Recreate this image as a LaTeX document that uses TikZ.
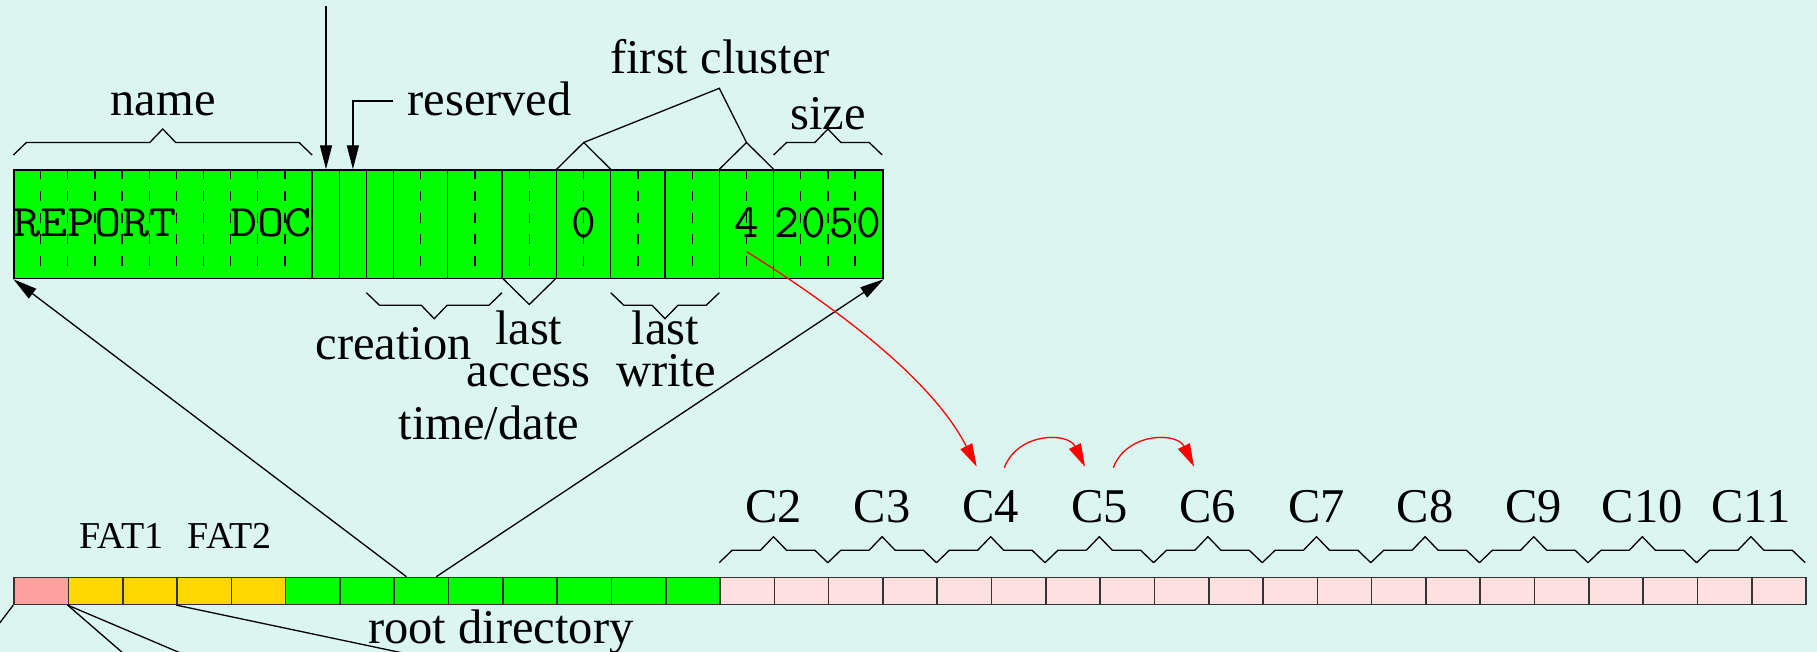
\documentclass[tikz,border=0pt]{standalone}
\usepackage{fontspec}
\setmainfont{Liberation Serif}
\usepackage{graphicx}
\usetikzlibrary{arrows.meta}
\definecolor{bgc}{RGB}{219,245,240}
\definecolor{bootc}{RGB}{255,160,160}
\definecolor{fatc}{RGB}{255,215,0}
\definecolor{dirc}{RGB}{0,255,0}
\definecolor{clc}{RGB}{255,224,224}
\newcommand\tchar[1]{\scalebox{1.17}[1]{#1}}
\newcommand\fatbrace[4]{\draw[brace] ({#1},{#3}) -- ({#1+13},{#3+#4*12.5}) -- ({(#1+#2)/2-13},{#3+#4*12.5}) -- ({(#1+#2)/2},{#3+#4*26}) -- ({(#1+#2)/2+13},{#3+#4*12.5}) -- ({#2-13},{#3+#4*12.5}) -- ({#2},{#3});}
\begin{document}
\begin{tikzpicture}[x=1pt,y=-1pt,
  lbl/.style={anchor=base,inner sep=0,font=\fontsize{48.5}{50}\selectfont},
  small/.style={anchor=base,inner sep=0,font=\fontsize{38}{42}\selectfont},
  ttl/.style={anchor=base,inner sep=0,font=\ttfamily\fontsize{45}{45}\selectfont},
  ttd/.style={anchor=base,inner sep=0,font=\ttfamily\fontsize{48}{48}\selectfont},
  thin/.style={line width=1.3pt},
  arr/.style={line width=1.3pt,-{Triangle[length=24pt,width=12pt]}},
  rarr/.style={red,line width=1.3pt,-{Triangle[length=23pt,width=13pt]}},
  brace/.style={line width=1.3pt,line join=miter},
  cell/.style={draw=black!80,line width=1.6pt,minimum width=54.3pt,minimum height=26.8pt,inner sep=0,anchor=north west}]
\fill[bgc] (0,0) rectangle (1817,652);
\useasboundingbox (0,0) rectangle (1817,652);
\clip (0,0) rectangle (1817,652);

% directory entry
\node[draw,fill=dirc,line width=1.5pt,minimum width=868.8pt,minimum height=108.4pt,inner sep=0,anchor=north west] (entry) at (13.4,169.3) {};
\foreach \i in {1,2,3,4,5,6,7,8,9,10,15,17,19,21,23,25,27,29,30,31}
  \draw[thin,dash pattern=on 10pt off 11.7pt] ({13.4+\i*27.15},169.3) -- ({13.4+\i*27.15},277.7);
\foreach \i in {11,12,13,14,16,18,20,22,24,26,28}
  \draw[thin] ({13.4+\i*27.15},169.3) -- ({13.4+\i*27.15},277.7);
\foreach \c [count=\i from 0] in {R,E,P,O,R,T}
  \node[ttl] (nm\i) at ({13.4+(\i+0.5)*27.15},237) {\tchar{\c}};
\foreach \c [count=\i from 8] in {D,O,C}
  \node[ttl] (nm\i) at ({13.4+(\i+0.5)*27.15},237) {\tchar{\c}};
\node[ttd] (hi) at (583.7,237.3) {0};
\node[ttd] (four) at (746.5,237.3) {4};
\foreach \c [count=\i from 28] in {2,0,5,0}
  \node[ttd] (sz\i) at ({13.4+(\i+0.5)*27.15},237.3) {\c};

% labels above
\node[lbl] (name) at (163,116) {name};
\node[lbl,anchor=base west] (res) at (407.3,116) {reserved};
\node[lbl] (fcl) at (720,74) {first cluster};
\node[lbl] (size) at (828,129.3) {size};
\fatbrace{13.4}{312.1}{155}{-1}
\fatbrace{773.6}{882.2}{155}{-1}
\coordinate (fc0) at (583.7,142.5);
\coordinate (fc4) at (746.5,142.5);
\coordinate (fcj) at (719.3,88.3);
\draw[brace] (556.6,169.3) -- (fc0) -- (610.7,169.3);
\draw[brace] (719.3,169.3) -- (fc4) -- (773.6,169.3);
\draw[brace] (fc0) -- (fcj) -- (fc4);
\coordinate (attrTop) at (326,6.5);
\coordinate (attrIn) at (326,169.3);
\draw[arr] (attrTop) -- (attrIn);
\coordinate (resK) at (393.4,101);
\coordinate (resIn) at (352.9,169.3);
\draw[arr] (resK) -| (resIn);

% labels below
\fatbrace{366.4}{502}{292.7}{1}
\fatbrace{610.7}{719.3}{292.7}{1}
\draw[brace] (502,277.7) -- (529.3,304.5) -- (556.6,277.7);
\node[lbl] (cre) at (393.8,359) {creation};
\node[lbl] (la1) at (528.7,344) {last};
\node[lbl] (la2) at (528.7,386) {access};
\node[lbl] (lw1) at (665.3,344) {last};
\node[lbl] (lw2) at (666,386) {write};
\node[lbl] (td) at (488.8,439.3) {time/date};

% disk layout
\node[cell,fill=bootc] (d0) at (13.3,576.7) {};
\foreach \i in {1,...,4} \node[cell,fill=fatc] (d\i) at ({13.3+\i*54.3},576.7) {};
\foreach \i in {5,...,12} \node[cell,fill=dirc] (d\i) at ({13.3+\i*54.3},576.7) {};
\foreach \i in {13,...,32} \node[cell,fill=clc] (d\i) at ({13.3+\i*54.3},576.7) {};
\node[small] (fat1) at (121.4,548.3) {FAT1};
\node[small] (fat2) at (229.6,548.3) {FAT2};
\node[lbl] (root) at (500.9,643.3) {root directory};
\foreach \k in {0,...,9} {
  \pgfmathsetmacro\xa{13.3+(13+2*\k)*54.3}
  \pgfmathsetmacro\xb{\xa+108.6}
  \pgfmathtruncatemacro\cn{\k+2}
  \fatbrace{\xa}{\xb}{562.7}{-1}
  \node[lbl] (C\cn) at ({(\xa+\xb)/2},522.7) {C\cn};
}

% root directory to entry
\coordinate (rdL) at (406.4,576.7);
\coordinate (rdR) at (436.3,576.7);
\draw[arr] (rdL) -- (entry.south west);
\draw[arr] (rdR) -- (entry.south east);

% lines leaving at the bottom
\coordinate (o0) at (-30,662);
\coordinate (o1) at (131,660);
\coordinate (o2) at (197,660);
\coordinate (o3) at (436,660);
\draw[thin] (d0.south west) -- (o0);
\draw[thin] (d1.south west) -- (o1);
\draw[thin] (d1.south west) -- (o2);
\draw[thin] (d3.south west) -- (o3);

% cluster chain
\coordinate (fcs) at (746.7,251.7);
\coordinate (c4in) at (976.7,466.7);
\coordinate (c4out) at (1004.3,467.7);
\coordinate (c5in) at (1085,466.7);
\coordinate (c5out) at (1113.3,467.7);
\coordinate (c6in) at (1194,466.7);
\draw[rarr] (fcs) .. controls (831.5,304.7) and (931.3,377.6) .. (c4in);
\draw[rarr] (c4out) .. controls (1018,432) and (1068,432) .. (c5in);
\draw[rarr] (c5out) .. controls (1127,432) and (1177,432) .. (c6in);
\end{tikzpicture}
\end{document}
